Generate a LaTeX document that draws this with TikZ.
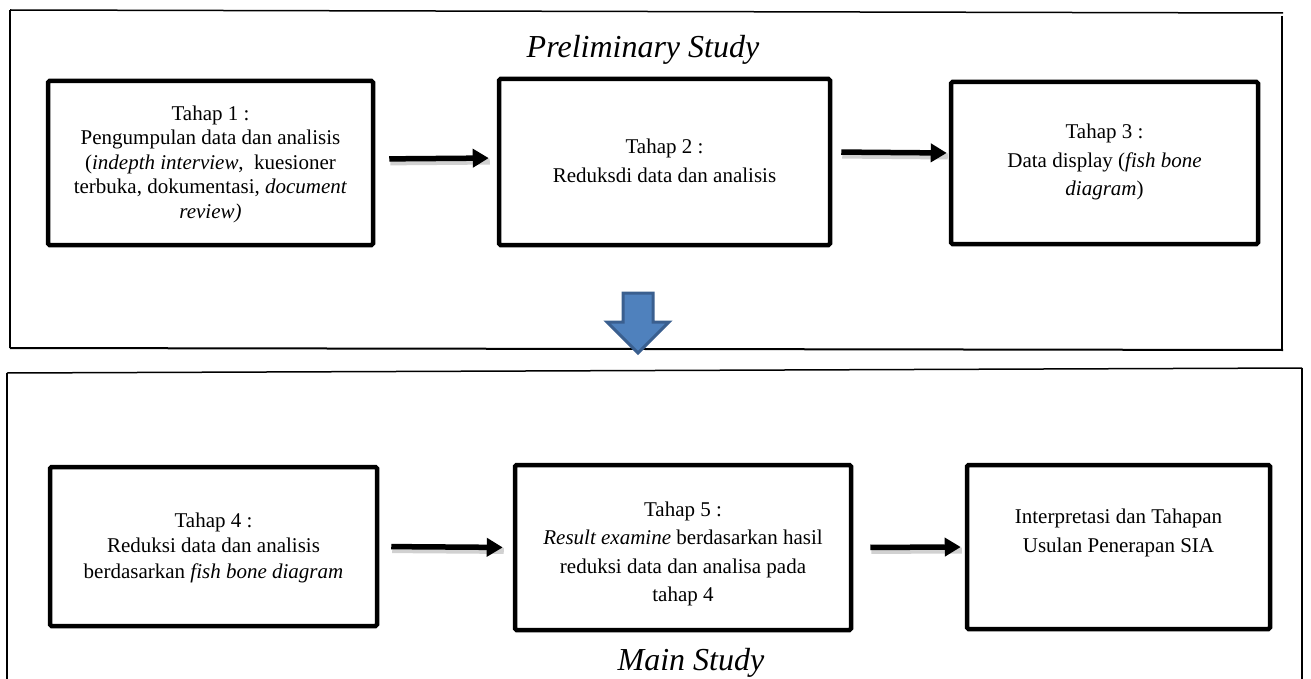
\documentclass[tikz,border=0pt]{standalone}
\usepackage{fontspec}
\setmainfont{Liberation Serif}
\usetikzlibrary{arrows.meta,calc}
\definecolor{arrowfill}{HTML}{4F81BD}
\definecolor{arrowedge}{HTML}{3A5F8F}
\begin{document}
\begin{tikzpicture}[x=1pt,y=-1pt,
  stagebox/.style={draw=black, line width=4.5pt, rounded corners=1.5pt, inner sep=0pt},
  stagetext/.style={align=center, inner sep=0pt},
  flow/.style={line width=5.5pt, -{Triangle[length=16pt,width=18pt]},
    preaction={draw=black!18, line width=6pt, -, transform canvas={shift={(1pt,-3.5pt)}}}},
  frameline/.style={line width=1.5pt, black},
  titletext/.style={font=\fontsize{32}{38}\selectfont\itshape, inner sep=0pt, anchor=base}
]
\useasboundingbox (0,0) rectangle (1311,679);

% frames
\draw[frameline] (10,10) -- (1283,13);
\draw[frameline] (10,10) -- (10,348);
\draw[frameline, line width=2pt] (10,348) -- (1283,350);
\draw[frameline] (1282,16) -- (1282,350);

\draw[frameline] (7,373) -- (1302,368);
\draw[frameline] (7,373) -- (7,679);
\draw[frameline] (1302,368) -- (1302,679);

% titles
\node[titletext] (pre) at (643,58) {Preliminary Study};
\node[titletext] (main) at (691,670) {Main Study};

% boxes
\node[stagebox, minimum width=325pt, minimum height=164pt] (b1) at (210.5,163) {};
\node[stagebox, minimum width=331pt, minimum height=166pt] (b2) at (664.5,162) {};
\node[stagebox, minimum width=307pt, minimum height=162pt] (b3) at (1104.5,163) {};
\node[stagebox, minimum width=327pt, minimum height=159pt] (b4) at (213.5,546.5) {};
\node[stagebox, minimum width=336pt, minimum height=165pt] (b5) at (683,547.5) {};
\node[stagebox, minimum width=303pt, minimum height=164pt] (b6) at (1118.5,547) {};

% texts
\node[stagetext, font=\fontsize{21}{24.5}\selectfont] (t1) at (210.5,164) {Tahap 1 :\\Pengumpulan data dan analisis\\(\textit{indepth interview},~ kuesioner\\terbuka, dokumentasi, \textit{document}\\\textit{review)}};
\node[stagetext, font=\fontsize{21}{28.5}\selectfont] (t2) at (664.5,161) {Tahap 2 :\\Reduksdi data dan analisis};
\node[stagetext, font=\fontsize{21}{28.5}\selectfont] (t3) at (1104.5,162) {Tahap 3 :\\Data display (\textit{fish bone}\\\textit{diagram})};
\node[stagetext, font=\fontsize{21}{25.5}\selectfont] (t4) at (213.5,547.5) {Tahap 4 :\\Reduksi data dan analisis\\berdasarkan \textit{fish bone diagram}};
\node[stagetext, font=\fontsize{21}{28.5}\selectfont] (t5) at (683,554) {Tahap 5 :\\\textit{Result examine} berdasarkan hasil\\reduksi data dan analisa pada\\tahap 4};
\node[stagetext, font=\fontsize{21}{29}\selectfont] (t6) at (1118.5,532.5) {Interpretasi dan Tahapan\\Usulan Penerapan SIA};

% connectors
\draw[flow, shorten <=14pt, shorten >=8pt] ([yshift=4pt]b1.east) -- ([yshift=4pt]b2.west);
\draw[flow, shorten <=9pt, shorten >=2pt] ([yshift=10pt]b2.east) -- ([yshift=10pt]b3.west);
\draw[flow, shorten <=12pt, shorten >=10pt] (b4.east) -- (b5.west);
\draw[flow, shorten <=17pt, shorten >=4pt] (b5.east) -- (b6.west);

% block arrow between stages
\draw[fill=arrowfill, draw=arrowedge, line width=3pt, line join=miter]
  (623,293) -- (653,293) -- (653,322) -- (669,322) -- (638,353) -- (607,322) -- (623,322) -- cycle;
\end{tikzpicture}
\end{document}
